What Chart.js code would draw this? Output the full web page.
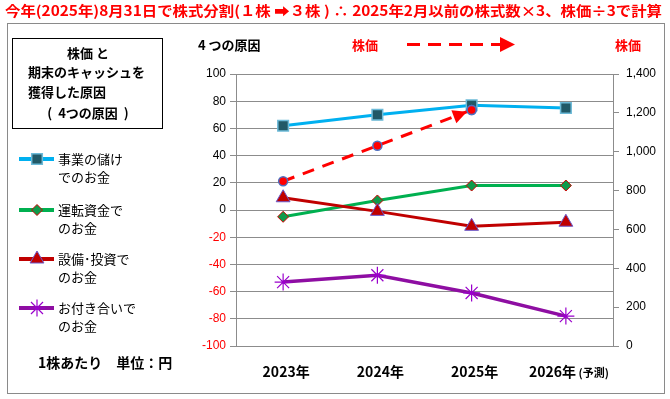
<!DOCTYPE html>
<html>
<head>
<meta charset="utf-8">
<script src="https://cdn.jsdelivr.net/npm/chart.js@4/dist/chart.umd.min.js"></script>
<style>
  html, body { margin: 0; padding: 0; background: #ffffff; }
  #wrap { width: 670px; height: 399px; position: relative; }
</style>
</head>
<body>
<div id="wrap"><canvas id="c" width="670" height="399"></canvas></div>
<script>
// ---- data ----
const categories = ['2023年', '2024年', '2025年', '2026年'];
const categoryNotes = ['', '', '', '(予測)'];
const operatingCash = [62, 70, 77, 75];      // 事業の儲けでのお金
const workingCapital = [-5, 7, 18, 18];      // 運転資金でのお金
const investmentCash = [9, -1, -12, -9];     // 設備･投資でのお金
const socialCash = [-53, -48, -61, -78];     // お付き合いでのお金
const stockPrice = [848, 1031, 1215, null];  // 株価 (右軸)
const leftAxis = { min: -100, max: 100, step: 20 };
const rightAxis = { min: 0, max: 1400, step: 200 };

const titleText = '今年(2025年)8月31日で株式分割(１株 ➡３株 ) ∴ 2025年2月以前の株式数×3、株価÷3で計算';
const boxLines = ['株価 と', '期末のキャッシュを', '獲得した原因', '(  4つの原因  )'];
const legendLabels = [
  ['事業の儲け', 'でのお金'],
  ['運転資金で', 'のお金'],
  ['設備･投資で', 'のお金'],
  ['お付き合いで', 'のお金']
];
const unitText = '1株あたり　単位：円';
const causeText = '4 つの原因';
const priceText = '株価';

const JP = '"Noto Sans CJK JP", "Noto Sans", sans-serif';
const NUM = '"Liberation Sans", Arial, sans-serif';
const GRID = '#8c8c8c';

function drawMarker(ctx, ds, x, y) {
  const opts = {
    pointStyle: ds.pointStyle, radius: ds.pointRadius, rotation: 0,
    borderWidth: ds.pointBorderWidth
  };
  ctx.save();
  ctx.fillStyle = ds.pointBackgroundColor;
  ctx.strokeStyle = ds.pointBorderColor;
  ctx.lineWidth = ds.pointBorderWidth;
  if (Chart.helpers && Chart.helpers.drawPoint) {
    Chart.helpers.drawPoint(ctx, opts, x, y);
  }
  ctx.restore();
}

const deco = {
  id: 'deco',
  beforeDraw(chart) {
    const ctx = chart.ctx;
    ctx.save();
    ctx.fillStyle = '#ffffff';
    ctx.fillRect(0, 0, chart.width, chart.height);
    ctx.strokeStyle = '#8a8a8a';
    ctx.lineWidth = 1;
    ctx.strokeRect(7.5, 23.5, 657, 370);
    ctx.restore();
  },
  afterDatasetsDraw(chart) {
    // arrow head at the end of the stock price line
    const ctx = chart.ctx;
    const idx = chart.data.datasets.findIndex(d => d.yAxisID === 'yR');
    const meta = chart.getDatasetMeta(idx);
    const pts = meta.data.filter((p, i) => stockPrice[i] !== null);
    if (pts.length >= 2) {
      const a = pts[pts.length - 2], b = pts[pts.length - 1];
      const ang = Math.atan2(b.y - a.y, b.x - a.x);
      const tipX = b.x - Math.cos(ang) * 5, tipY = b.y - Math.sin(ang) * 5;
      const len = 14, half = 7;
      const bx = tipX - Math.cos(ang) * len, by = tipY - Math.sin(ang) * len;
      ctx.save();
      ctx.fillStyle = '#ff0000';
      ctx.beginPath();
      ctx.moveTo(tipX, tipY);
      ctx.lineTo(bx + Math.sin(ang) * half, by - Math.cos(ang) * half);
      ctx.lineTo(bx - Math.sin(ang) * half, by + Math.cos(ang) * half);
      ctx.closePath();
      ctx.fill();
      ctx.restore();
      // redraw the end point on top
      b.draw(ctx);
    }
  },
  afterDraw(chart) {
    const ctx = chart.ctx;
    ctx.save();
    ctx.textBaseline = 'middle';
    // title
    ctx.fillStyle = '#ff0000';
    ctx.font = 'bold 14px ' + JP;
    ctx.textAlign = 'left';
    const tw = ctx.measureText(titleText).width;
    const target = 657;
    ctx.save();
    ctx.translate(5, 11);
    ctx.scale(target / tw, 1);
    ctx.fillText(titleText, 0, 0);
    ctx.restore();

    // box with heading
    ctx.strokeStyle = '#000000';
    ctx.lineWidth = 1;
    ctx.strokeRect(12.5, 38.5, 150, 90);
    ctx.fillStyle = '#000000';
    ctx.font = 'bold 13px ' + JP;
    ctx.textAlign = 'center';
    ctx.fillText(boxLines[0], 88, 53);
    ctx.textAlign = 'left';
    ctx.fillText(boxLines[1], 28, 72);
    ctx.fillText(boxLines[2], 28, 92);
    ctx.textAlign = 'center';
    ctx.fillText(boxLines[3], 88, 113);

    // legend
    const legendY = [159, 210, 259, 308];
    const dsOrder = [0, 1, 2, 3];
    ctx.textAlign = 'left';
    dsOrder.forEach((di, k) => {
      const ds = chart.data.datasets[di];
      const y = legendY[k];
      ctx.strokeStyle = ds.borderColor;
      ctx.lineWidth = 4;
      ctx.beginPath();
      ctx.moveTo(19, y);
      ctx.lineTo(54, y);
      ctx.stroke();
      drawMarker(ctx, ds, 37, y);
      ctx.fillStyle = '#000000';
      ctx.font = '13px ' + JP;
      ctx.fillText(legendLabels[k][0], 58, y);
      ctx.fillText(legendLabels[k][1], 58, y + 18);
    });

    ctx.font = 'bold 14px ' + JP;
    ctx.fillStyle = '#000000';
    ctx.fillText(unitText, 38, 363);

    // headings above the plot
    ctx.font = 'bold 13px ' + JP;
    ctx.fillText(causeText, 198, 45);
    ctx.fillStyle = '#ff0000';
    ctx.fillText(priceText, 352, 45);
    ctx.fillText(priceText, 615, 45);

    // dashed arrow in heading
    ctx.strokeStyle = '#ff0000';
    ctx.lineWidth = 3;
    ctx.setLineDash([13, 8]);
    ctx.beginPath();
    ctx.moveTo(407, 44.5);
    ctx.lineTo(500, 44.5);
    ctx.stroke();
    ctx.setLineDash([]);
    ctx.beginPath();
    ctx.moveTo(515, 44.5);
    ctx.lineTo(500, 37);
    ctx.lineTo(500, 52);
    ctx.closePath();
    ctx.fillStyle = '#ff0000';
    ctx.fill();

    // x labels
    const xs = chart.scales.x;
    ctx.fillStyle = '#000000';
    categories.forEach((c, i) => {
      const cx = xs.getPixelForValue(i) + 3;
      ctx.font = 'bold 14px ' + JP;
      const w1 = ctx.measureText(c).width;
      let w2 = 0;
      const note = categoryNotes[i];
      if (note) {
        ctx.font = 'bold 11px ' + JP;
        w2 = ctx.measureText(' ' + note).width;
      }
      const start = cx - (w1 + w2) / 2;
      ctx.textAlign = 'left';
      ctx.font = 'bold 14px ' + JP;
      ctx.fillText(c, start, 372);
      if (note) {
        ctx.font = 'bold 11px ' + JP;
        ctx.fillText(' ' + note, start + w1, 373);
      }
    });
    ctx.restore();
  }
};

new Chart(document.getElementById('c'), {
  type: 'line',
  data: {
    labels: categories,
    datasets: [
      {
        label: legendLabels[0].join(''), data: operatingCash, yAxisID: 'yL', order: 3,
        borderColor: '#00b0f0', borderWidth: 3,
        pointStyle: 'rect', pointRadius: 7.5, pointBorderWidth: 1.5,
        pointBackgroundColor: '#215967', pointBorderColor: '#6cbad8'
      },
      {
        label: legendLabels[1].join(''), data: workingCapital, yAxisID: 'yL', order: 2,
        borderColor: '#00b050', borderWidth: 3,
        pointStyle: 'rectRot', pointRadius: 5.5, pointBorderWidth: 1,
        pointBackgroundColor: '#0e9a4a', pointBorderColor: '#d00000'
      },
      {
        label: legendLabels[2].join(''), data: investmentCash, yAxisID: 'yL', order: 1,
        borderColor: '#c00000', borderWidth: 3,
        pointStyle: 'triangle', pointRadius: 8, pointBorderWidth: 1,
        pointBackgroundColor: '#c00000', pointBorderColor: '#6a5acd'
      },
      {
        label: legendLabels[3].join(''), data: socialCash, yAxisID: 'yL', order: 4,
        borderColor: '#8e0ea2', borderWidth: 3.5,
        pointStyle: 'star', pointRadius: 8.5, pointBorderWidth: 1.2,
        pointBackgroundColor: '#9a00cc', pointBorderColor: '#9a00cc'
      },
      {
        label: priceText, data: stockPrice, yAxisID: 'yR', order: 0,
        borderColor: '#ff0000', borderWidth: 3, borderDash: [12, 9],
        pointStyle: 'circle', pointRadius: 4.5, pointBorderWidth: 1.5,
        pointBackgroundColor: '#ff0000', pointBorderColor: '#4f6fc0',
        spanGaps: false
      }
    ]
  },
  options: {
    responsive: false,
    animation: false,
    devicePixelRatio: 1,
    locale: 'en-US',
    layout: { padding: { top: 74, left: 0, right: 0, bottom: 0 } },
    plugins: { legend: { display: false }, tooltip: { enabled: false }, title: { display: false } },
    elements: { line: { tension: 0 } },
    scales: {
      x: {
        type: 'category', offset: true,
        grid: { display: false, drawTicks: false },
        border: { display: false },
        ticks: { display: false },
        afterFit(s) { s.height = 53; }
      },
      yL: {
        position: 'left', min: leftAxis.min, max: leftAxis.max,
        grid: { color: GRID, lineWidth: 1, tickLength: 6, tickColor: GRID },
        border: { color: GRID, width: 1 },
        ticks: {
          stepSize: leftAxis.step, padding: 4,
          font: { family: NUM, size: 12 },
          color: (c) => (c.tick && c.tick.value < 0 ? '#ff0000' : '#000000')
        },
        afterFit(s) { s.width = 236; }
      },
      yR: {
        position: 'right', min: rightAxis.min, max: rightAxis.max,
        grid: { drawOnChartArea: false, tickLength: 6, color: GRID, tickColor: GRID },
        border: { color: GRID, width: 1 },
        ticks: {
          stepSize: rightAxis.step, padding: 7,
          font: { family: NUM, size: 12 }, color: '#000000',
          callback: (v) => v.toLocaleString('en-US')
        },
        afterFit(s) { s.width = 57; }
      }
    }
  },
  plugins: [deco]
});
</script>
</body>
</html>
